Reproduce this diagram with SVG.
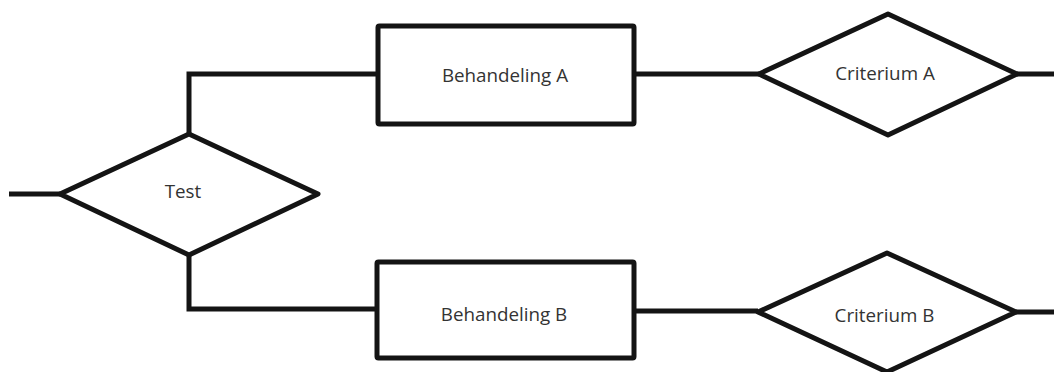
<svg xmlns="http://www.w3.org/2000/svg" width="1054" height="372" viewBox="0 0 1054 372">
  <style>
    .shape { fill: #ffffff; stroke: #141414; stroke-width: 5; stroke-linejoin: round; }
    .wire { fill: none; stroke: #141414; stroke-width: 5; stroke-linejoin: miter; }
    .label { font-family: "Open Sans", "Noto Sans", sans-serif; font-size: 18.8px; fill: #333333; text-anchor: middle; }
  </style>
  <rect width="1054" height="372" fill="#ffffff"/>

  <!-- connectors -->
  <g id="connectors">
    <line class="wire" x1="9" y1="194" x2="60" y2="194"/>
    <polyline class="wire" points="189,134 189,74 378,74"/>
    <polyline class="wire" points="189,255 189,309 377,309"/>
    <line class="wire" x1="634" y1="74" x2="759" y2="74"/>
    <line class="wire" x1="634" y1="311" x2="758" y2="311"/>
    <line class="wire" x1="1017" y1="74" x2="1054" y2="74"/>
    <line class="wire" x1="1016" y1="312" x2="1054" y2="312"/>
  </g>

  <!-- decision: Test -->
  <g id="test">
    <polygon class="shape" points="60,194 189,134 318,194 189,255"/>
    <text class="label" x="183" y="198">Test</text>
  </g>

  <!-- process: Behandeling A -->
  <g id="behandeling-a">
    <rect class="shape" x="378" y="26" width="256" height="98" rx="1.5"/>
    <text class="label" x="505" y="82">Behandeling A</text>
  </g>

  <!-- process: Behandeling B -->
  <g id="behandeling-b">
    <rect class="shape" x="377" y="262" width="257" height="96" rx="1.5"/>
    <text class="label" x="504" y="320.5">Behandeling B</text>
  </g>

  <!-- decision: Criterium A -->
  <g id="criterium-a">
    <polygon class="shape" points="759,74 888,14 1017,74 888,135"/>
    <text class="label" x="885" y="80">Criterium A</text>
  </g>

  <!-- decision: Criterium B -->
  <g id="criterium-b">
    <polygon class="shape" points="758,312 887,253 1016,312 887,372"/>
    <text class="label" x="884.5" y="321.5">Criterium B</text>
  </g>
</svg>
